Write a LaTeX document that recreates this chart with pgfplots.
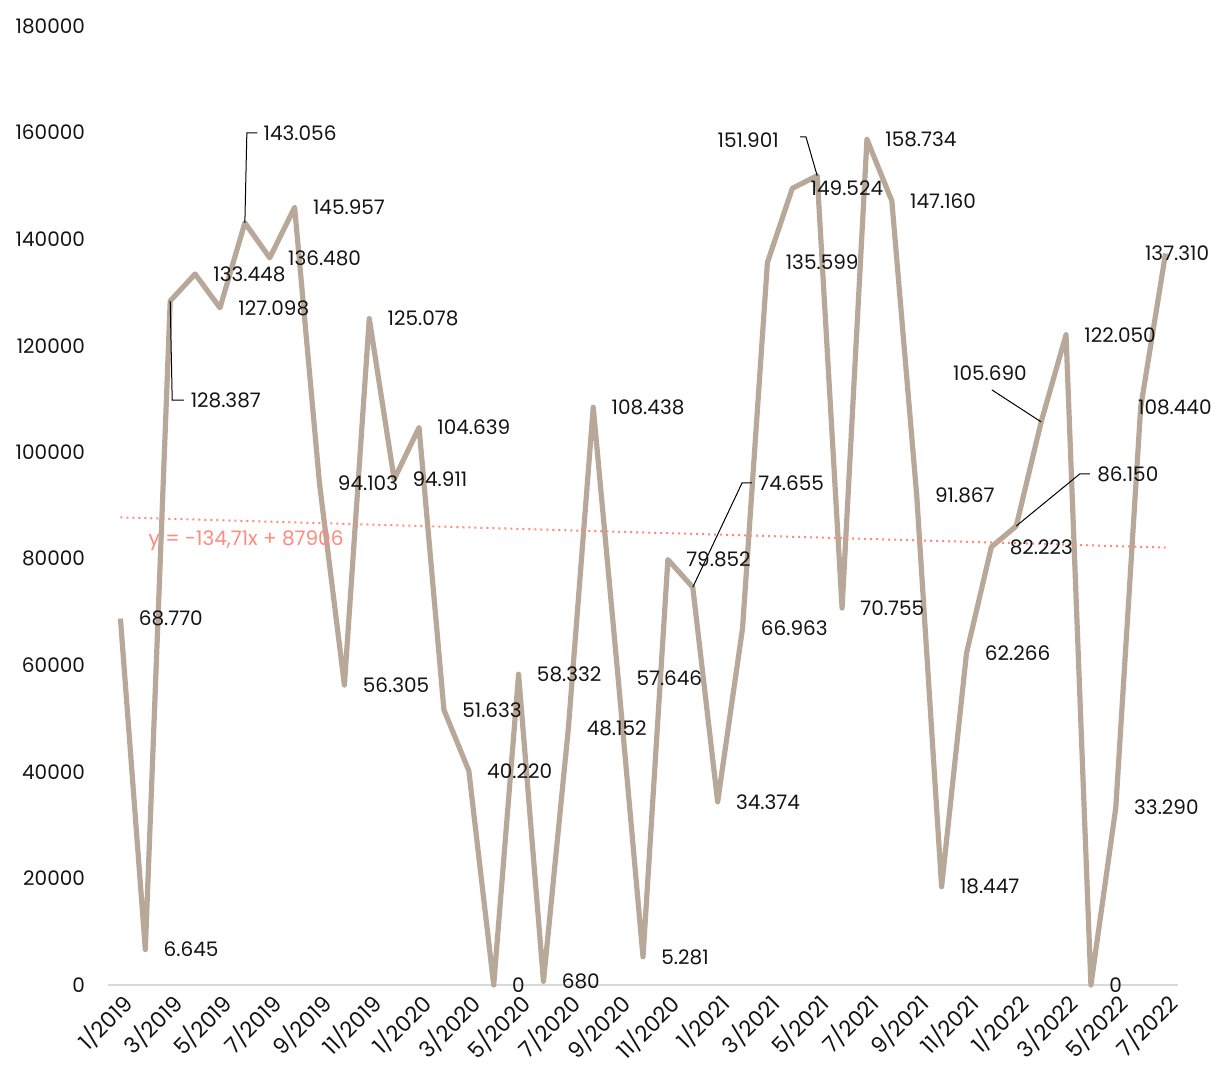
\documentclass[border=0pt]{standalone}
\usepackage{pgfplots}
\usepackage{pgfplotstable}
\pgfplotsset{compat=1.18}
\usepackage{fontspec}
\setmainfont{Poppins}

\definecolor{taupe}{RGB}{183,168,153}
\definecolor{trend}{RGB}{255,138,125}
\definecolor{axisgray}{RGB}{217,217,217}
\definecolor{txt}{RGB}{20,20,20}

% monthly values, 1/2019 .. 7/2022
\pgfplotstableread{
x y
0 68770
1 6645
2 128387
3 133448
4 127098
5 143056
6 136480
7 145957
8 94103
9 56305
10 125078
11 94911
12 104639
13 51633
14 40220
15 0
16 58332
17 680
18 48152
19 108438
20 57646
21 5281
22 79852
23 74655
24 34374
25 66963
26 135599
27 149524
28 151901
29 70755
30 158734
31 147160
32 91867
33 18447
34 62266
35 82223
36 86150
37 105690
38 122050
39 0
40 33290
41 108440
42 137310
}\sales

% labels placed right of their point
\pgfplotstableread{
x y lab
0 68770 68.770
1 6645 6.645
3 133448 133.448
4 127098 127.098
6 136480 136.480
7 145957 145.957
8 94103 94.103
9 56305 56.305
10 125078 125.078
11 94911 94.911
12 104639 104.639
13 51633 51.633
14 40220 40.220
15 0 0
16 58332 58.332
17 680 680
18 48152 48.152
19 108438 108.438
20 57646 57.646
21 5281 5.281
22 79852 79.852
24 34374 34.374
25 66963 66.963
26 135599 135.599
27 149524 149.524
29 70755 70.755
30 158734 158.734
31 147160 147.160
32 91867 91.867
33 18447 18.447
34 62266 62.266
35 82223 82.223
38 122050 122.050
39 0 0
40 33290 33.290
}\labs

\begin{document}
\begin{tikzpicture}
\begin{axis}[
  scale only axis,
  width=535pt, height=479.5pt,
  xmin=-0.5, xmax=42.5,
  ymin=0, ymax=180000,
  axis x line*=bottom,
  axis y line*=left,
  x axis line style={draw=axisgray, line width=0.8pt, -},
  y axis line style={draw=none},
  ytick={0,20000,40000,60000,80000,100000,120000,140000,160000,180000},
  yticklabels={0,20000,40000,60000,80000,100000,120000,140000,160000,180000},
  xtick={0,2,...,42},
  xticklabels={1/2019,3/2019,5/2019,7/2019,9/2019,11/2019,1/2020,3/2020,5/2020,7/2020,9/2020,11/2020,1/2021,3/2021,5/2021,7/2021,9/2021,11/2021,1/2022,3/2022,5/2022,7/2022},
  major tick length=0pt,
  scaled y ticks=false,
  tick label style={font=\fontsize{10}{12}\selectfont, text=txt},
  xticklabel style={rotate=45, anchor=east, font=\fontsize{11}{12}\selectfont, yshift=-8pt, xshift=1pt},
  yticklabel style={anchor=east, xshift=-8pt},
  clip=false,
]
\addplot[taupe, line width=2.6pt, line join=round] table[x=x,y=y] {\sales};
% linear trend  y = -134,71x + 87906
\addplot[trend, line width=1pt, dotted] coordinates {(0,87771) (42,82112)};
\node[anchor=west, text=trend, font=\fontsize{10}{12}\selectfont, inner sep=0pt] at (axis cs:1.12,83340) {y = -134,71x + 87906};

\addplot[draw=none, nodes near coords, point meta=explicit symbolic,
  nodes near coords style={anchor=west, inner sep=0pt, xshift=9pt, text=txt, font=\fontsize{10}{12}\selectfont}]
  table[x=x,y=y,meta=lab] {\labs};

% labels moved away from their point, with leader lines
\begin{scope}[every node/.style={inner sep=0pt, text=txt, font=\fontsize{10}{12}\selectfont}]
\draw[black, line width=0.5pt] (axis cs:2,128387) -- (axis cs:2.08,109800) -- (axis cs:2.55,109800);
\node[anchor=west] at (axis cs:2.81,109800) {128.387};
\draw[black, line width=0.5pt] (axis cs:5,143056) -- (axis cs:5.08,159920) -- (axis cs:5.5,159920);
\node[anchor=west] at (axis cs:5.74,159920) {143.056};
\draw[black, line width=0.5pt] (axis cs:23,74655) -- (axis cs:24.98,94225) -- (axis cs:25.38,94225);
\node[anchor=west] at (axis cs:25.62,94225) {74.655};
\draw[black, line width=0.5pt] (axis cs:27.31,159166) -- (axis cs:27.55,159166) -- (axis cs:28,151901);
\node[anchor=east] at (axis cs:26.47,158607) {151.901};
\draw[black, line width=0.5pt] (axis cs:36,86150) -- (axis cs:38.55,95915) -- (axis cs:38.96,95915);
\node[anchor=west] at (axis cs:39.24,95915) {86.150};
\draw[black, line width=0.5pt] (axis cs:35.02,111700) -- (axis cs:37,105690);
\node at (axis cs:34.94,114872) {105.690};
\node[anchor=west] at (axis cs:40.88,108440) {108.440};
\node[anchor=west] at (axis cs:41.16,137310) {137.310};
\end{scope}
\end{axis}
\pgfresetboundingbox
\path ([shift={(-54pt,-41.5pt)}]current axis.south west) rectangle ([shift={(19pt,13pt)}]current axis.north east);
\end{tikzpicture}
\end{document}
